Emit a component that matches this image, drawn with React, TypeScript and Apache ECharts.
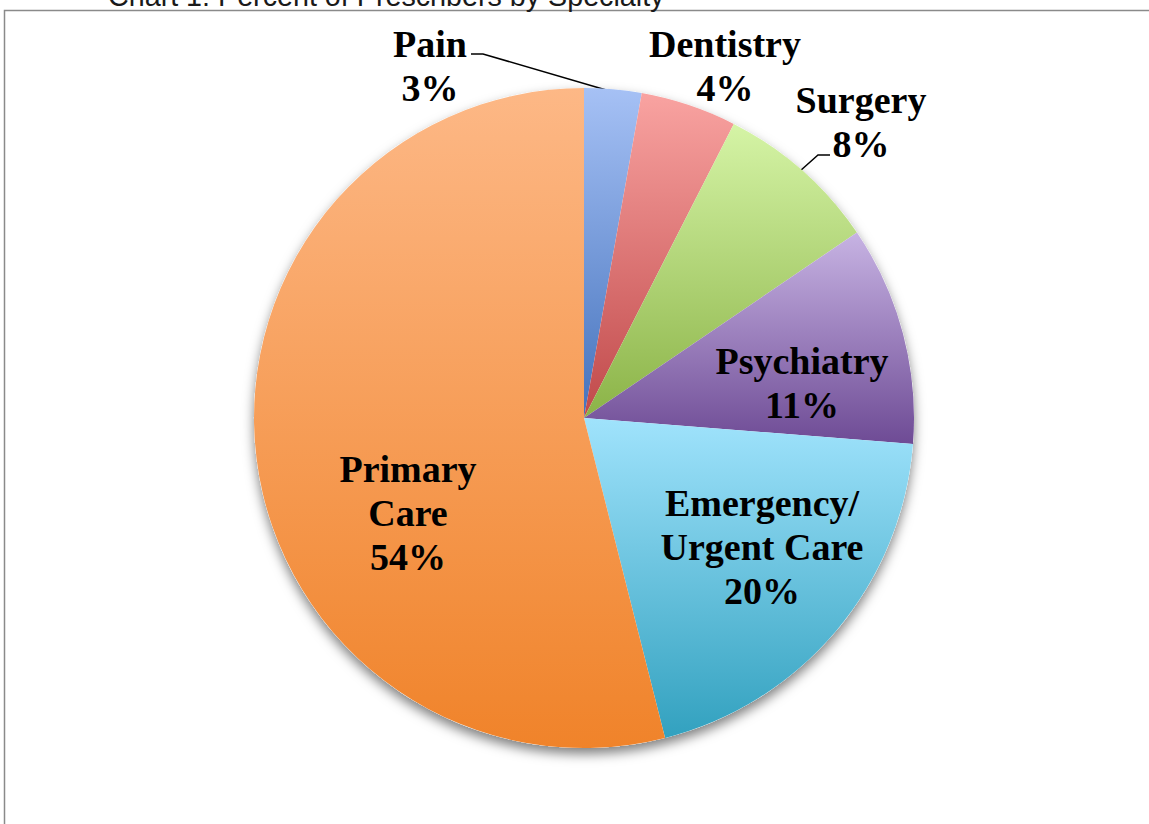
import React, { useEffect, useRef } from "react";
import * as echarts from "echarts";

const categories = ["Pain", "Dentistry", "Surgery", "Psychiatry", "Emergency/\nUrgent Care", "Primary\nCare"];
const values = [2.8, 4.7, 8.0, 10.75, 19.8, 53.95];
const percentLabels = ["3%", "4%", "8%", "11%", "20%", "54%"];
const topColors = ["#A6C1F5", "#F9A3A1", "#D5F4A6", "#C7B3E3", "#A0E3FC", "#FDB886"];
const bottomColors = ["#4472BC", "#C0494A", "#8BB347", "#6E4B95", "#32A1BF", "#F0832A"];

// label anchor centres and leader lines (layout only)
const labelPos: [number, number][] = [
  [430, 66],
  [725, 66],
  [861, 122],
  [802, 383],
  [762, 547],
  [408, 513],
];
const leaderLines: ([number, number][] | null)[] = [
  [[613, 92], [483, 54], [471, 54]],
  null,
  [[800, 171], [818, 155], [830, 155]],
  null,
  null,
  null,
];

const TITLE = "Chart 1: Percent of Prescribers by Specialty";

export default function App() {
  const ref = useRef<HTMLDivElement>(null);
  useEffect(() => {
    if (!ref.current) return;
    const chart = echarts.init(ref.current, null, { renderer: "svg" });
    const CENTER = [584, 418];
    const RADIUS = 330;
    chart.setOption({
      animation: false,
      backgroundColor: "#ffffff",
      graphic: [
        {
          type: "rect",
          shape: { x: 4.5, y: 10.5, width: 1300, height: 1000 },
          style: { fill: "none", stroke: "#8a8a8a", lineWidth: 1.5 },
          silent: true,
          z: 0,
        },
        {
          type: "text",
          x: 108,
          y: -18,
          style: {
            text: TITLE,
            fontFamily: "Liberation Sans",
            fontSize: 28.7,
            lineHeight: 28,
            fill: "#1a1a1a",
            align: "left",
            verticalAlign: "top",
          },
          silent: true,
        },
      ],
      series: [
        {
          type: "pie",
          silent: true,
          center: CENTER,
          radius: RADIUS,
          z: 1,
          label: { show: false },
          labelLine: { show: false },
          itemStyle: {
            color: "#ffffff",
            shadowBlur: 12,
            shadowOffsetY: 6,
            shadowColor: "rgba(0,0,0,0.5)",
          },
          data: [{ value: 1, name: "" }],
        },
        {
          type: "pie",
          z: 2,
          center: CENTER,
          radius: RADIUS,
          startAngle: 90,
          clockwise: true,
          avoidLabelOverlap: false,
          silent: true,
          itemStyle: { borderWidth: 0 },
          label: {
            show: true,
            position: "outside",
            formatter: (p: any) => `${p.name}\n${percentLabels[p.dataIndex]}`,
            fontFamily: "Liberation Serif",
            fontWeight: "bold",
            fontSize: 38,
            lineHeight: 44,
            color: "#000000",
            align: "center",
          },
          labelLine: { show: true, lineStyle: { color: "#000000", width: 1.5 } },
          labelLayout: (params: any) => {
            const i = params.dataIndex;
            const res: any = {
              x: labelPos[i][0],
              y: labelPos[i][1],
              align: "center",
              verticalAlign: "middle",
            };
            if (leaderLines[i]) res.labelLinePoints = leaderLines[i];
            return res;
          },
          data: categories.map((name, i) => ({
            name,
            value: values[i],
            itemStyle: {
              color: new echarts.graphic.LinearGradient(0, 0, 0, 1, [
                { offset: 0, color: topColors[i] },
                { offset: 1, color: bottomColors[i] },
              ]),
            },
            labelLine: { show: !!leaderLines[i] },
          })),
        },
      ],
    });
    return () => chart.dispose();
  }, []);
  return (
    <div
      ref={ref}
      style={{ position: "absolute", left: 0, top: 0, width: 1149, height: 824 }}
    />
  );
}
